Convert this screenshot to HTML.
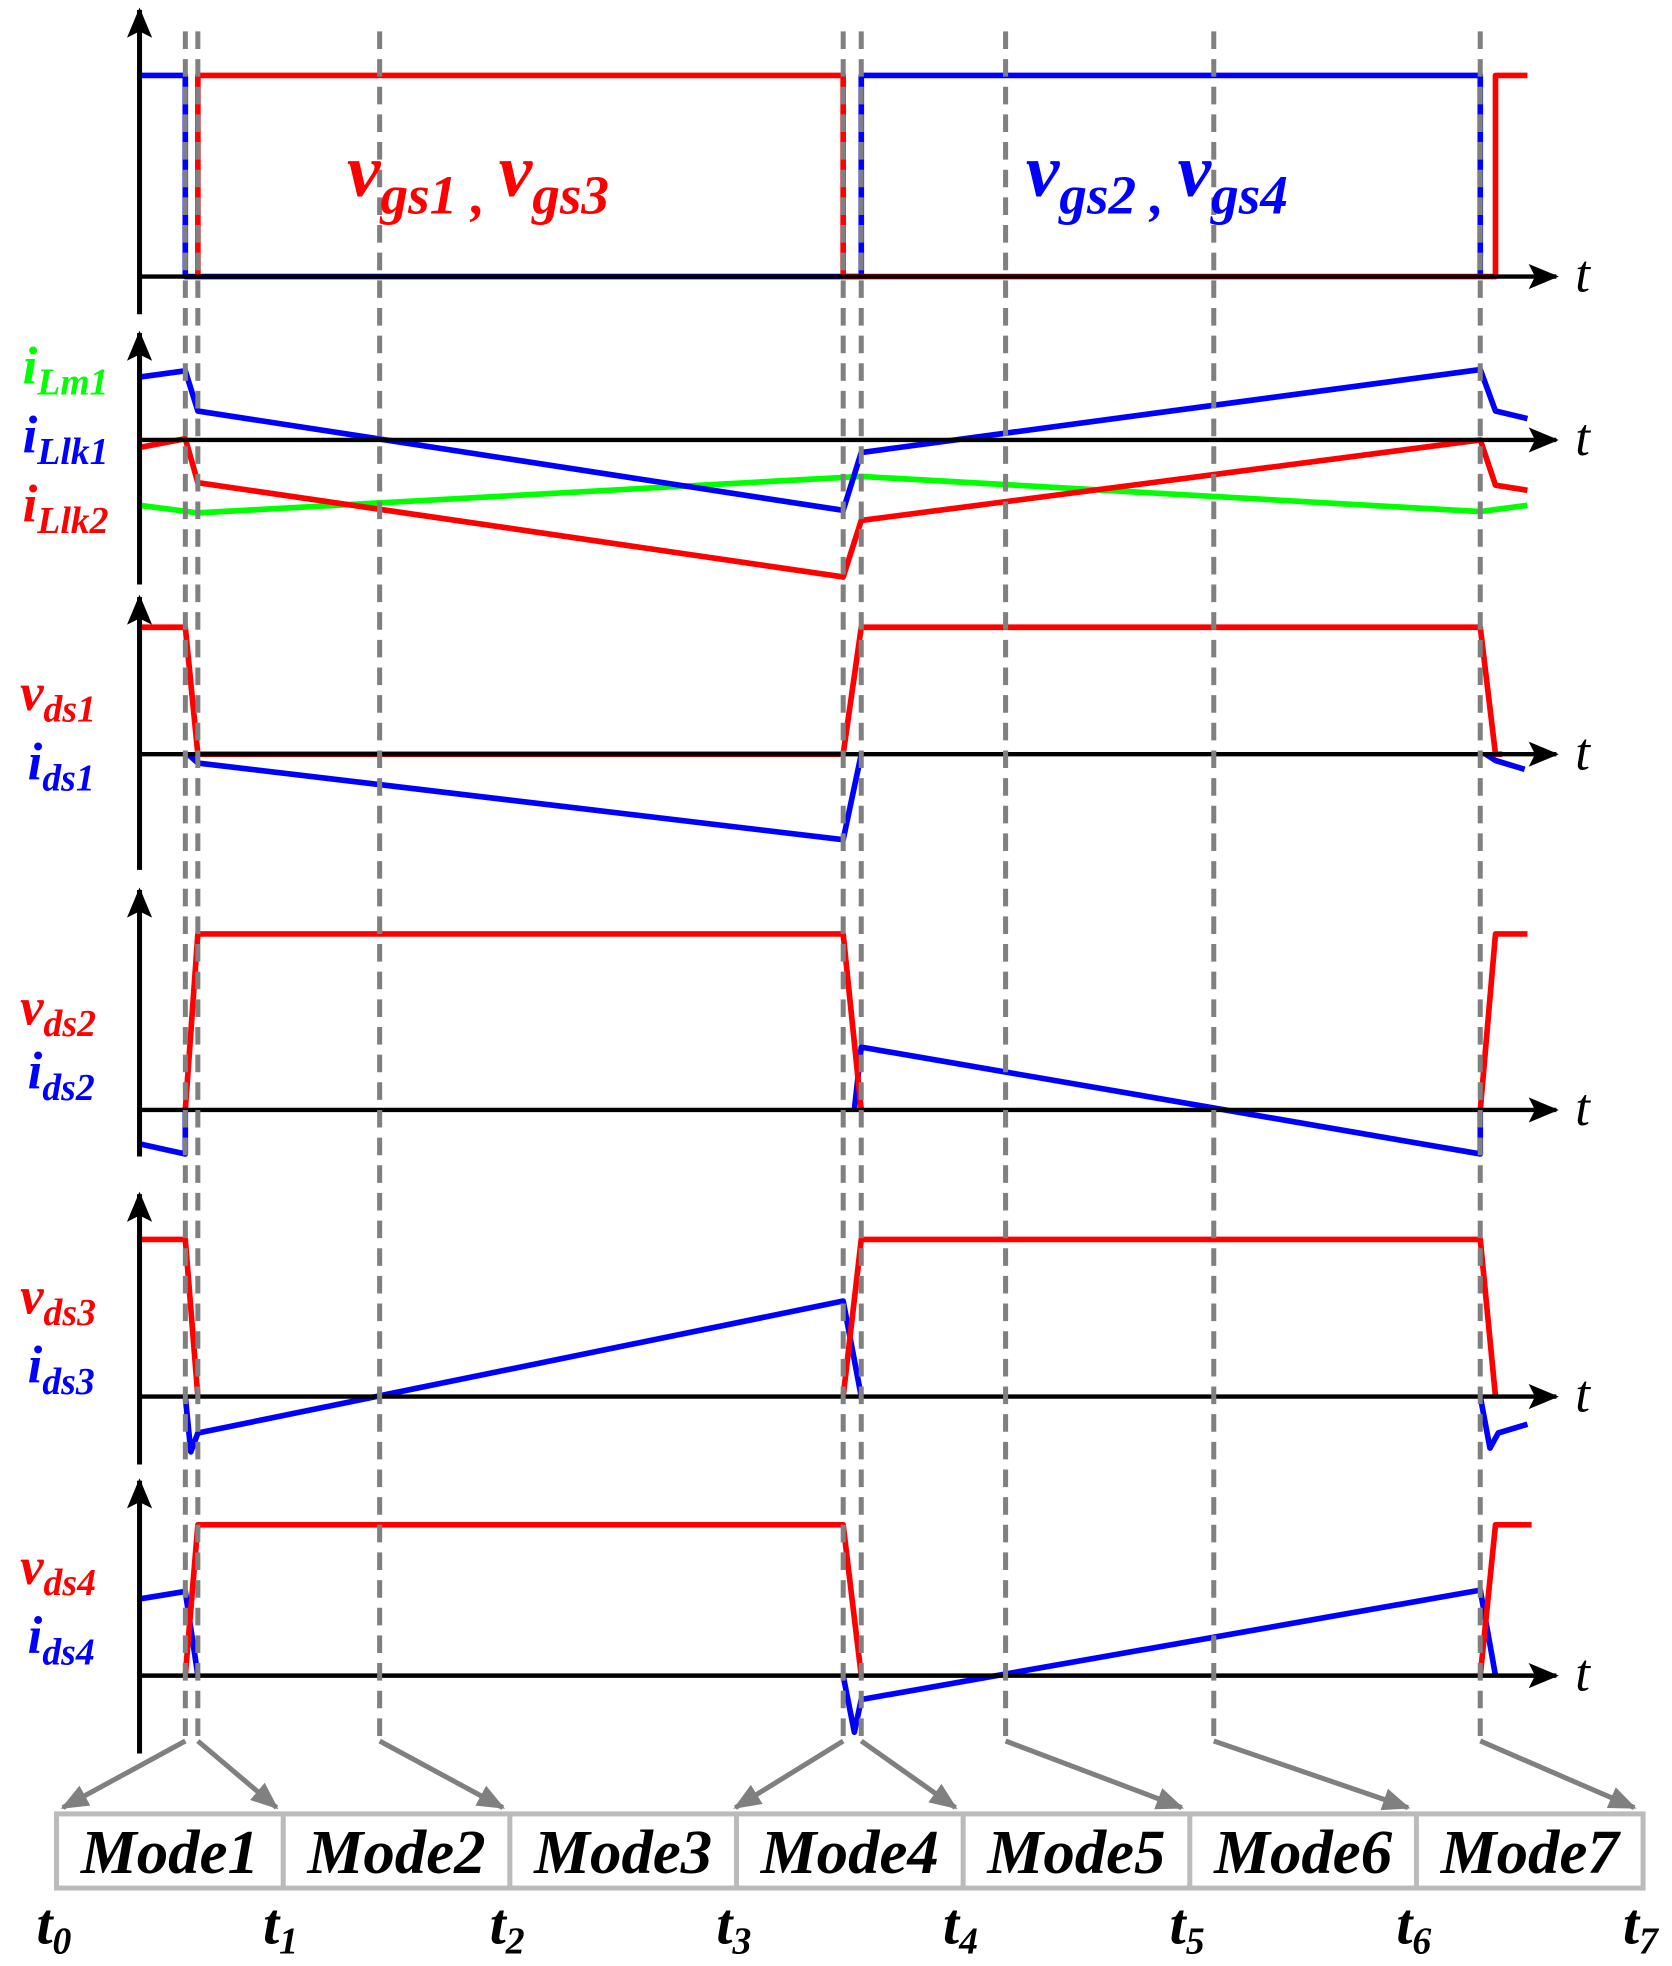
<!DOCTYPE html>
<html><head><meta charset="utf-8">
<style>
html,body{margin:0;padding:0;background:#fff;}
svg{display:block;}
</style></head>
<body>
<svg id="chart" width="1672" height="1966" viewBox="0 0 1330 1564" preserveAspectRatio="none" xmlns="http://www.w3.org/2000/svg">
<defs>
<marker id="ah" markerWidth="24" markerHeight="20" refX="22" refY="10" orient="auto" markerUnits="userSpaceOnUse" viewBox="0 0 24 20"><path d="M0,0 L24,10 L0,20 L5,10 Z" fill="#000"/></marker>
<marker id="ahg" markerWidth="22" markerHeight="18" refX="20" refY="9" orient="auto" markerUnits="userSpaceOnUse" viewBox="0 0 22 18"><path d="M0,0 L22,9 L0,18 Z" fill="#808080"/></marker>
</defs>
<g id="series"></g>
<g id="axes"></g>
<g id="dashes"></g>
<g id="labels"></g>
<g id="modes"></g>
</svg>
<script>
// ---- data ----
const modeTimes = [3.3, 4.2, 17.3, 50.7, 52.0, 62.4, 77.4, 96.6];
const modeNames = ["Mode1","Mode2","Mode3","Mode4","Mode5","Mode6","Mode7"];
const timeLabels = ["0","1","2","3","4","5","6","7"];
const panelBaselines = [220, 350, 600, 883, 1111, 1333];
const panelTops = [8, 265, 475, 708, 950, 1178];
const panelBottoms = [250, 465, 692, 920, 1165, 1395];

const gsBlueT = [0, 3.3, 3.3, 52.0, 52.0, 96.6, 96.6];
const gsBlueV = [1.6, 1.6, 0, 0, 1.6, 1.6, 0];
const gsRedT = [4.2, 4.2, 50.7, 50.7, 97.7, 97.7, 100];
const gsRedV = [0, 1.6, 1.6, 0, 0, 1.6, 1.6];

const llk1T = [0, 3.3, 4.2, 50.7, 52.0, 96.6, 97.7, 100];
const llk1V = [0.50, 0.55, 0.23, -0.56, -0.10, 0.56, 0.23, 0.17];
const llk2T = [0, 3.3, 4.2, 50.7, 52.0, 96.6, 97.7, 100];
const llk2V = [-0.06, 0.01, -0.34, -1.09, -0.64, 0.0, -0.36, -0.40];
const lm1T = [0, 4.2, 52.0, 96.6, 100];
const lm1V = [-0.52, -0.58, -0.29, -0.57, -0.52];

const vds1T = [0, 3.3, 4.2, 50.7, 50.7, 52.0, 96.6, 97.7, 98.2];
const vds1V = [1.01, 1.01, 0, 0, 0, 1.01, 1.01, 0, 0];
const ids1T = [3.5, 4.2, 50.7, 52.0];
const ids1V = [0, -0.07, -0.68, 0];
const ids1bT = [97.0, 97.7, 99.8];
const ids1bV = [0, -0.05, -0.12];

const vds2T = [3.3, 4.2, 50.7, 52.0];
const vds2V = [0, 1.40, 1.40, 0];
const vds2bT = [96.6, 97.7, 100];
const vds2bV = [0, 1.40, 1.40];
const ids2T = [0, 3.3, 3.3];
const ids2V = [-0.27, -0.35, 0];
const ids2bT = [51.5, 52.0, 96.6, 96.6];
const ids2bV = [0, 0.50, -0.35, 0];

const vds3T = [0, 3.3, 4.2];
const vds3V = [1.25, 1.25, 0];
const vds3bT = [50.7, 52.0, 96.6, 97.7];
const vds3bV = [0, 1.25, 1.25, 0];
const ids3T = [3.3, 3.7, 4.2, 50.7, 52.0];
const ids3V = [0, -0.44, -0.29, 0.76, 0];
const ids3bT = [96.6, 97.3, 97.9, 100];
const ids3bV = [0, -0.41, -0.29, -0.22];

const vds4T = [3.3, 4.2, 50.7, 52.0];
const vds4V = [0, 1.20, 1.20, 0];
const vds4bT = [96.6, 97.7, 100.3];
const vds4bV = [0, 1.20, 1.20];
const ids4T = [0, 3.3, 4.2];
const ids4V = [0.61, 0.67, 0];
const ids4bT = [50.7, 51.5, 52.0, 96.6, 97.7];
const ids4bV = [0, -0.45, -0.19, 0.68, 0];

// ---- scales ----
const X0 = 111, X1 = 1215;
function xs(t){ return X0 + t/100*(X1-X0); }
function ys(p, v){ return panelBaselines[p] - v*100; }

const NS = "http://www.w3.org/2000/svg";
const SERIF = 'Liberation Serif, Times New Roman, serif';
function mk(tag, parent, attrs){
  const e = document.createElementNS(NS, tag);
  for (const k in attrs) e.setAttribute(k, attrs[k]);
  parent.appendChild(e);
  return e;
}
function labAttrs(extra){
  return Object.assign({'font-family':SERIF,'font-weight':'bold','font-style':'italic'}, extra);
}
const gA = document.getElementById('axes');
const gS = document.getElementById('series');
const gD = document.getElementById('dashes');
const gL = document.getElementById('labels');
const gM = document.getElementById('modes');

// axes
panelBaselines.forEach((b, i) => {
  const ya = mk('line', gA, {x1:X0, y1:panelBottoms[i], x2:X0, y2:panelTops[i], stroke:'#000','stroke-width':4,'marker-end':'url(#ah)'});
  
  
  const xa = mk('line', gA, {x1:X0, y1:b, x2:1238, y2:b, stroke:'#000','stroke-width':3.5,'marker-end':'url(#ah)'});
  
  
  const t = mk('text', gA, {x:1253, y:b+12, 'font-family':SERIF,'font-style':'italic','font-size':42});
  t.textContent = 't';
  
  
});

function series(p, T, V, color, name){
  const pts = T.map((t, i) => xs(t).toFixed(1) + ',' + ys(p, V[i]).toFixed(1)).join(' ');
  const e = mk('polyline', gS, {points:pts, fill:'none', stroke:color, 'stroke-width':4.5, 'stroke-linejoin':'round'});
  
  
}
const R='#ff0000', B='#0000ff', G='#00ff00';
series(0, gsBlueT, gsBlueV, B, 'vgs2-vgs4-trace');
series(0, gsRedT, gsRedV, R, 'vgs1-vgs3-trace');
series(1, lm1T, lm1V, G, 'ilm1-trace');
series(1, llk2T, llk2V, R, 'illk2-trace');
series(1, llk1T, llk1V, B, 'illk1-trace');
series(2, ids1T, ids1V, B, 'ids1-trace');
series(2, ids1bT, ids1bV, B, 'ids1-trace-end');
series(2, vds1T, vds1V, R, 'vds1-trace');
series(3, ids2T, ids2V, B, 'ids2-trace-start');
series(3, ids2bT, ids2bV, B, 'ids2-trace');
series(3, vds2T, vds2V, R, 'vds2-trace');
series(3, vds2bT, vds2bV, R, 'vds2-trace-end');
series(4, ids3T, ids3V, B, 'ids3-trace');
series(4, ids3bT, ids3bV, B, 'ids3-trace-end');
series(4, vds3T, vds3V, R, 'vds3-trace-start');
series(4, vds3bT, vds3bV, R, 'vds3-trace');
series(5, ids4T, ids4V, B, 'ids4-trace-start');
series(5, ids4bT, ids4bV, B, 'ids4-trace');
series(5, vds4T, vds4V, R, 'vds4-trace');
series(5, vds4bT, vds4bV, R, 'vds4-trace-end');

// mode box
const boxL = 45, boxR = 1307, boxT = 1443, boxBt = 1502;
const cellW = (boxR - boxL) / modeNames.length;
const box = mk('rect', gM, {x:boxL, y:boxT, width:boxR-boxL, height:boxBt-boxT, fill:'#fff', stroke:'#bbbbbb','stroke-width':4});


modeNames.forEach((m, i) => {
  if (i > 0) {
    const d = mk('line', gM, {x1:boxL+i*cellW, y1:boxT, x2:boxL+i*cellW, y2:boxBt, stroke:'#bbbbbb','stroke-width':4});
    
    
  }
  const t = mk('text', gM, labAttrs({x:boxL+(i+0.5)*cellW, y:boxT+47, 'text-anchor':'middle', 'font-size':50, fill:'#000'}));
  t.textContent = m;
  
  
});
timeLabels.forEach((s, i) => {
  const t = mk('text', gM, labAttrs({x:boxL+i*cellW-16, y:1546, 'font-size':46, fill:'#000'}));
  t.innerHTML = 't<tspan font-size="30" dy="8">' + s + '</tspan>';
  
  
});

// dashed event lines + arrows
const arrowTargets = [50, 220, 400, 585, 760, 940, 1120, 1300];
const dashOrder = [0,1,2,3,4,5,6,7];
dashOrder.forEach(i => {
  const x = xs(modeTimes[i]);
  const d = mk('line', gD, {x1:x, y1:25, x2:x, y2:1385, stroke:'#808080','stroke-width':4,'stroke-dasharray':'14 8'});
  
  
  const a = mk('line', gD, {x1:x, y1:1385, x2:arrowTargets[i], y2:1438, stroke:'#808080','stroke-width':4,'marker-end':'url(#ahg)'});
  
  
});

// labels
function lab(x, y, color, main, sub, size, name){
  const t = mk('text', gL, labAttrs({x:x, y:y, 'font-size':size, fill:color}));
  t.innerHTML = main + '<tspan font-size="' + Math.round(size*0.72) + '" dy="' + Math.round(size*0.22) + '">' + sub + '</tspan>';
  
  
}
(function(){
  const t = mk('text', gL, labAttrs({x:276, y:156, 'font-size':60, fill:R}));
  t.innerHTML = 'v<tspan font-size="44" dy="14">gs1 , </tspan><tspan dy="-14" font-size="60"> v</tspan><tspan font-size="44" dy="14">gs3</tspan>';
  
  
  const u = mk('text', gL, labAttrs({x:816, y:156, 'font-size':60, fill:B}));
  u.innerHTML = 'v<tspan font-size="44" dy="14">gs2 , </tspan><tspan dy="-14" font-size="60">v</tspan><tspan font-size="44" dy="14">gs4</tspan>';
  
  
})();
lab(18, 305, G, 'i', 'Lm1', 42, 'ilm1-label');
lab(18, 360, B, 'i', 'Llk1', 42, 'illk1-label');
lab(18, 415, R, 'i', 'Llk2', 42, 'illk2-label');
lab(16, 565, R, 'v', 'ds1', 42, 'vds1-label');
lab(22, 620, B, 'i', 'ds1', 42, 'ids1-label');
lab(16, 815, R, 'v', 'ds2', 42, 'vds2-label');
lab(22, 866, B, 'i', 'ds2', 42, 'ids2-label');
lab(16, 1045, R, 'v', 'ds3', 42, 'vds3-label');
lab(22, 1100, B, 'i', 'ds3', 42, 'ids3-label');
lab(16, 1260, R, 'v', 'ds4', 42, 'vds4-label');
lab(22, 1315, B, 'i', 'ds4', 42, 'ids4-label');
</script>
</body></html>
